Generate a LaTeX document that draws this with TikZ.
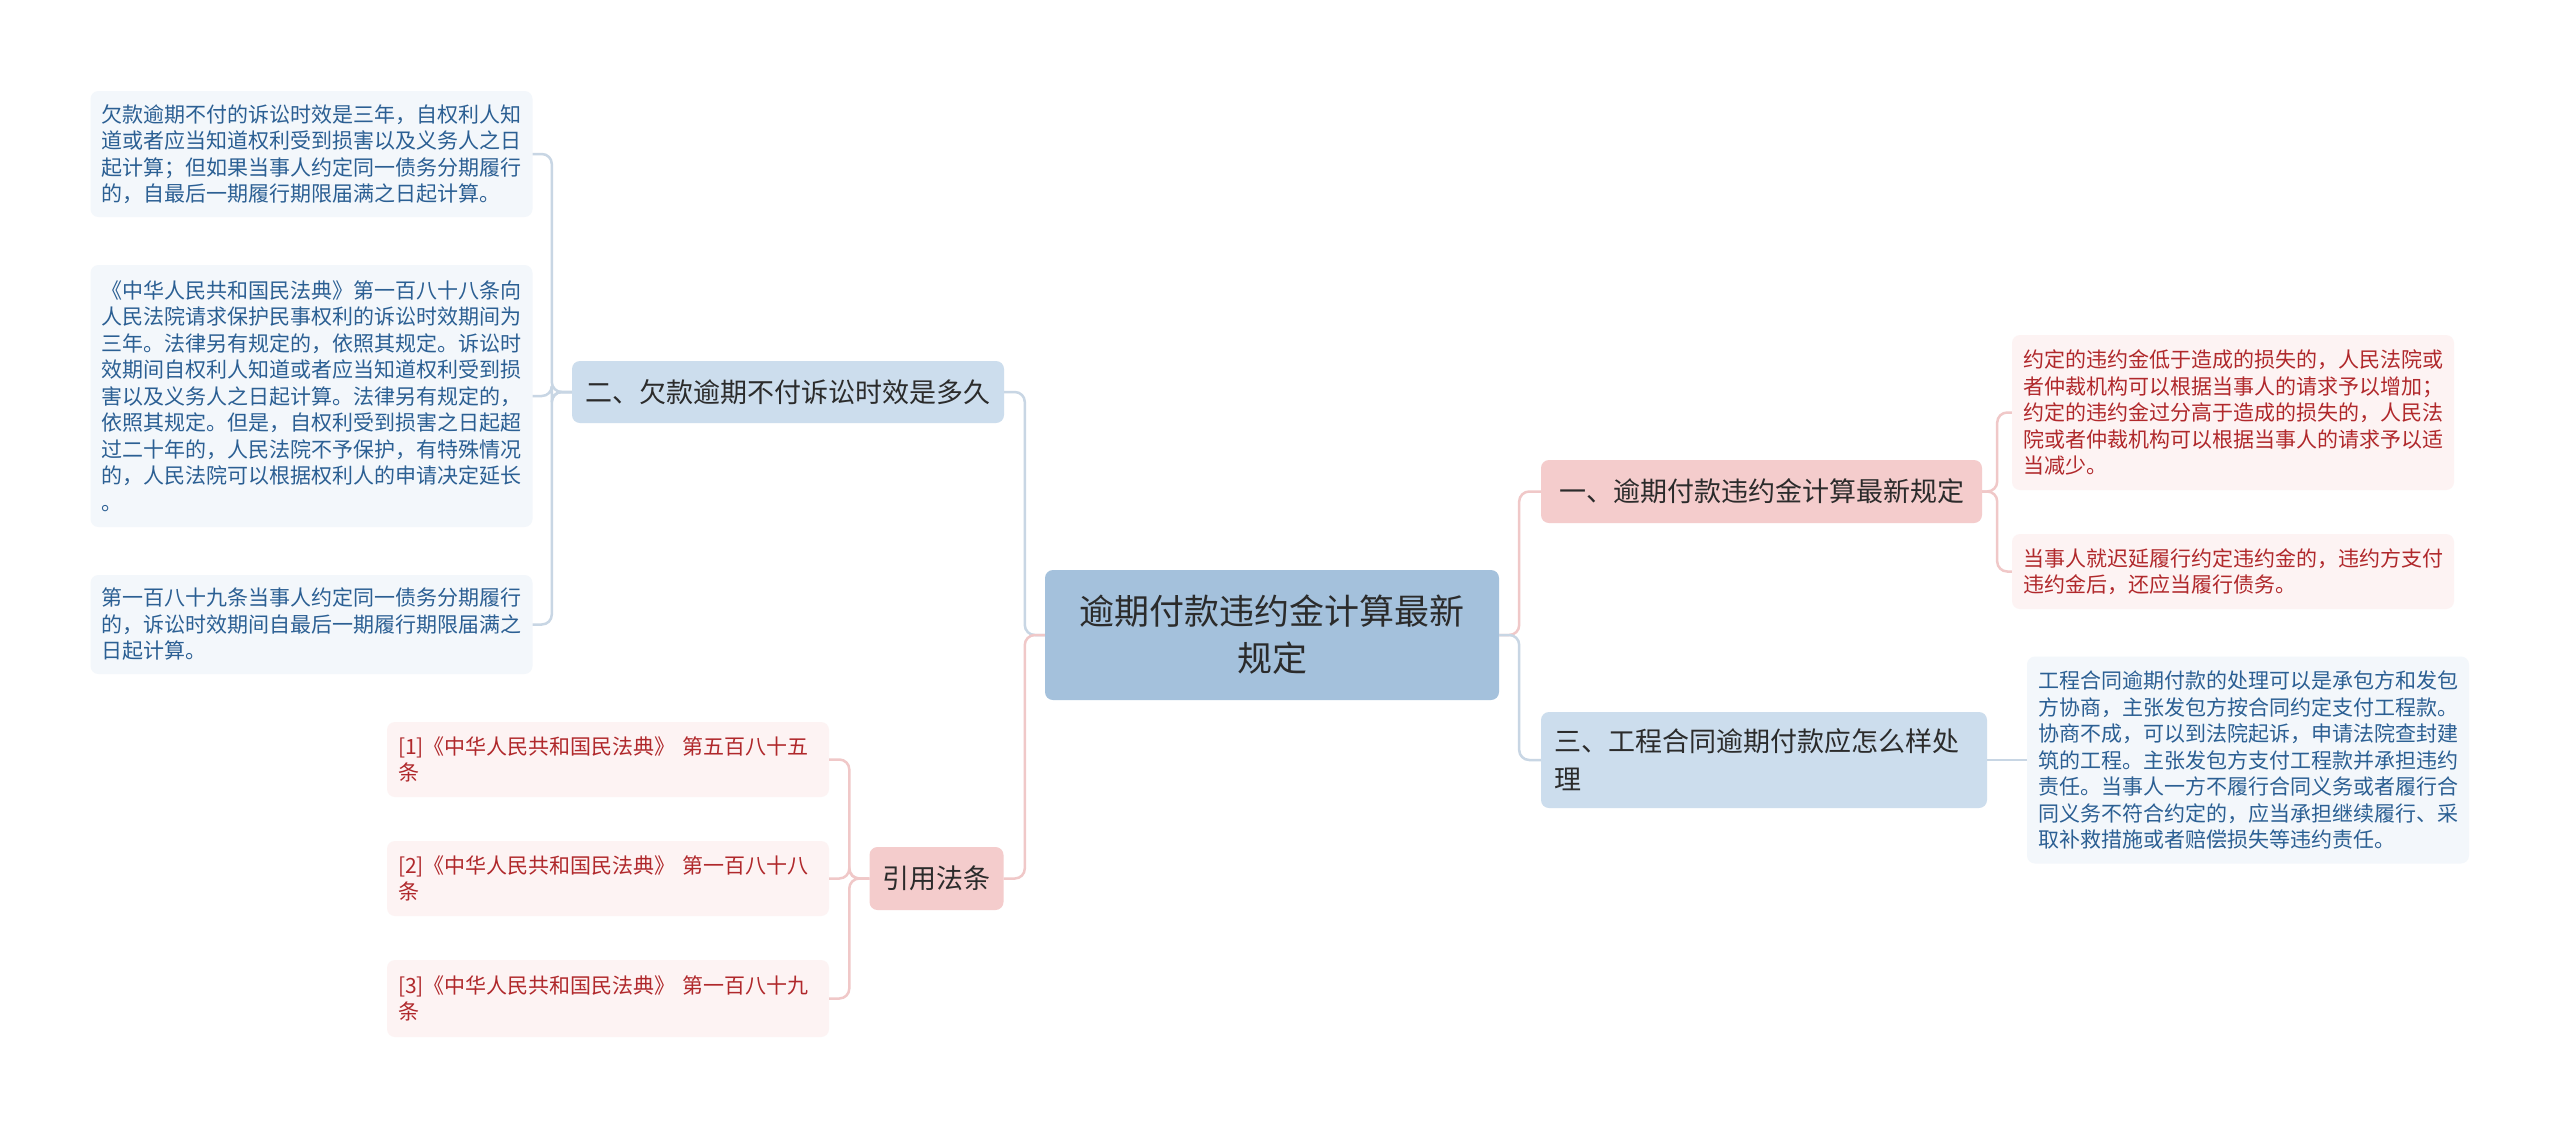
\documentclass[tikz,border=0pt]{standalone}
\usepackage{fontspec}
\newfontfamily\cjk{Noto Sans CJK SC}
\definecolor{rootfill}{HTML}{A4C1DC}
\definecolor{bluefill}{HTML}{CCDDED}
\definecolor{pinkfill}{HTML}{F4CCCC}
\definecolor{blueleaf}{HTML}{F3F7FB}
\definecolor{pinkleaf}{HTML}{FDF3F3}
\definecolor{bluetext}{HTML}{2B5F93}
\definecolor{redtext}{HTML}{B0282B}
\definecolor{darktext}{HTML}{2B2B2B}
\definecolor{blueedge}{HTML}{C8D6E4}
\definecolor{pinkedge}{HTML}{F0C8C8}
\tikzset{
  rootbox/.style={rounded corners=8pt, fill=rootfill, text=darktext, align=center,
    minimum width=454pt, minimum height=130pt, font=\cjk\fontsize{35}{47}\selectfont},
  branchbox/.style={rounded corners=8pt, text=darktext, align=left, inner xsep=13pt,
    font=\cjk\fontsize{27}{38}\selectfont},
  leafbox/.style={rounded corners=8pt, text width=420pt, inner xsep=11pt, align=left,
    font=\cjk\fontsize{21}{26.5}\selectfont},
  blueleafbox/.style={leafbox, fill=blueleaf, text=bluetext},
  pinkleafbox/.style={leafbox, fill=pinkleaf, text=redtext},
  blueline/.style={draw=blueedge, line width=2.5pt},
  pinkline/.style={draw=pinkedge, line width=2.5pt}
}
\begin{document}
\begin{tikzpicture}[x=1pt,y=-1pt]
  \useasboundingbox[fill=white] (0,0) rectangle (2560,1128);
  \draw
    (1272,635) node[rootbox] (root) {逾期付款违约金计算最新\\规定}
    (788,392) node[branchbox, fill=bluefill, minimum width=432pt, minimum height=62pt] (b2) {二、欠款逾期不付诉讼时效是多久}
    (936.5,878.5) node[branchbox, fill=pinkfill, minimum width=133pt, minimum height=63pt] (bc) {引用法条}
    (1761.5,491.5) node[branchbox, fill=pinkfill, minimum width=441pt, minimum height=63pt] (b1) {一、逾期付款违约金计算最新规定}
    (1764,760) node[branchbox, fill=bluefill, text width=420pt, minimum height=96pt] (b3) {三、工程合同逾期付款应怎么样处\\理}
    (311.5,154) node[blueleafbox, minimum height=126pt] (l1) {欠款逾期不付的诉讼时效是三年，自权利人知\\道或者应当知道权利受到损害以及义务人之日\\起计算；但如果当事人约定同一债务分期履行\\的，自最后一期履行期限届满之日起计算。}
    (311.5,396) node[blueleafbox, minimum height=262pt] (l2) {《中华人民共和国民法典》第一百八十八条向\\人民法院请求保护民事权利的诉讼时效期间为\\三年。法律另有规定的，依照其规定。诉讼时\\效期间自权利人知道或者应当知道权利受到损\\害以及义务人之日起计算。法律另有规定的，\\依照其规定。但是，自权利受到损害之日起超\\过二十年的，人民法院不予保护，有特殊情况\\的，人民法院可以根据权利人的申请决定延长\\。}
    (311.5,624.5) node[blueleafbox, minimum height=99pt] (l3) {第一百八十九条当事人约定同一债务分期履行\\的，诉讼时效期间自最后一期履行期限届满之\\日起计算。}
    (608,759.5) node[pinkleafbox, minimum height=75pt] (c1) {[1]《中华人民共和国民法典》 第五百八十五\\条}
    (608,878.5) node[pinkleafbox, minimum height=75pt] (c2) {[2]《中华人民共和国民法典》 第一百八十八\\条}
    (608,998.5) node[pinkleafbox, minimum height=77pt] (c3) {[3]《中华人民共和国民法典》 第一百八十九\\条}
    (2233,412.5) node[pinkleafbox, minimum height=155pt] (r1) {约定的违约金低于造成的损失的，人民法院或\\者仲裁机构可以根据当事人的请求予以增加；\\约定的违约金过分高于造成的损失的，人民法\\院或者仲裁机构可以根据当事人的请求予以适\\当减少。}
    (2233,571.5) node[pinkleafbox, minimum height=75pt] (r2) {当事人就迟延履行约定违约金的，违约方支付\\违约金后，还应当履行债务。}
    (2248,760) node[blueleafbox, minimum height=207pt] (r3) {工程合同逾期付款的处理可以是承包方和发包\\方协商，主张发包方按合同约定支付工程款。\\协商不成，可以到法院起诉，申请法院查封建\\筑的工程。主张发包方支付工程款并承担违约\\责任。当事人一方不履行合同义务或者履行合\\同义务不符合约定的，应当承担继续履行、采\\取补救措施或者赔偿损失等违约责任。};
  \begin{scope}[rounded corners=10pt]
    \draw[blueline] (root.west) -- ++(-20,0) |- (b2.east);
    \draw[pinkline] (root.west) -- ++(-20,0) |- (bc.east);
    \draw[pinkline] (root.east) -- ++(20,0) |- (b1.west);
    \draw[blueline] (root.east) -- ++(20,0) |- (b3.west);
    \draw[blueline] (b2.west) -- ++(-20,0) |- (l1.east);
    \draw[blueline] (b2.west) -- ++(-20,0) |- (l2.east);
    \draw[blueline] (b2.west) -- ++(-20,0) |- (l3.east);
    \draw[pinkline] (bc.west) -- ++(-20,0) |- (c1.east);
    \draw[pinkline] (bc.west) -- ++(-20,0) |- (c2.east);
    \draw[pinkline] (bc.west) -- ++(-20,0) |- (c3.east);
    \draw[pinkline] (b1.east) -- ++(15,0) |- (r1.west);
    \draw[pinkline] (b1.east) -- ++(15,0) |- (r2.west);
    \draw[blueline] (b3.east) -- (r3.west);
  \end{scope}
\end{tikzpicture}
\end{document}
